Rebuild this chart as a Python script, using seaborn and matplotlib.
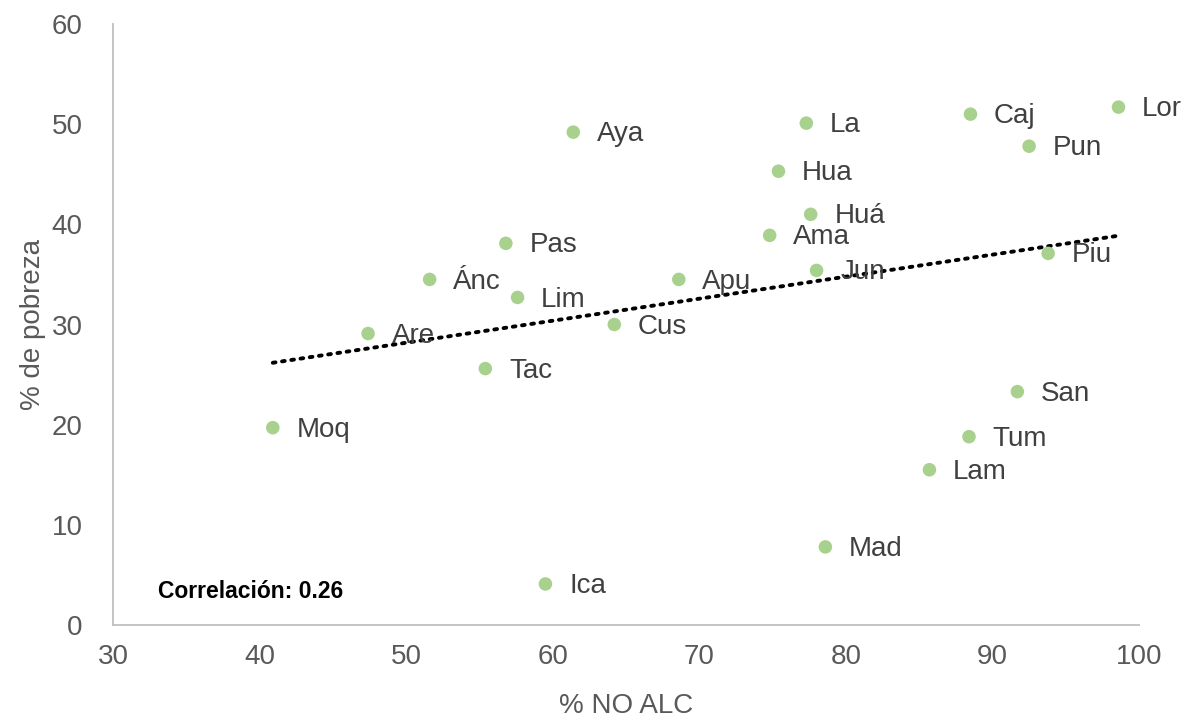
import numpy as np
import matplotlib
matplotlib.use("Agg")
import matplotlib.pyplot as plt
import pandas as pd
import seaborn as sns

# Regiones: % NO ALC vs % de pobreza
regiones = ["Lor", "Caj", "Pun", "Piu", "La", "Hua", "Huá", "Ama", "Jun",
            "Pas", "Ánc", "Lim", "Apu", "Cus", "Are", "Tac", "Moq", "Ica",
            "Mad", "Aya", "San", "Tum", "Lam"]
no_alc = [98.6, 88.5, 92.5, 93.8, 77.3, 75.4, 77.6, 74.8, 78.0,
          56.8, 51.6, 57.6, 68.6, 64.2, 47.4, 55.4, 40.9, 59.5,
          78.6, 61.4, 91.7, 88.4, 85.7]
pobreza = [51.7, 51.0, 47.8, 37.1, 50.1, 45.3, 41.0, 38.9, 35.4,
           38.1, 34.5, 32.7, 34.5, 30.0, 29.1, 25.6, 19.7, 4.1,
           7.8, 49.2, 23.3, 18.8, 15.5]
correlacion = "0.26"

df = pd.DataFrame({"region": regiones, "no_alc": no_alc, "pobreza": pobreza})

sns.set_style("white")
plt.rcParams['font.family'] = ['Liberation Sans Narrow', 'Liberation Sans', 'DejaVu Sans']

fig = plt.figure(figsize=(11.85, 7.22), dpi=100)
ax = fig.add_axes([0.0954, 0.1343, 0.8658, 0.8325])

# linea de tendencia (OLS)
sns.regplot(data=df, x="no_alc", y="pobreza", ax=ax, scatter=False, ci=None,
            line_kws=dict(color="black", lw=2.8, linestyle=(0, (0.7, 1.7)),
                          dash_capstyle="round"))

sns.scatterplot(data=df, x="no_alc", y="pobreza", ax=ax, color="#A9D18E",
                s=95, edgecolor="none", zorder=3)

for _, r in df.iterrows():
    ax.annotate(r["region"], (r["no_alc"], r["pobreza"]), xytext=(17, -1.5),
                textcoords="offset points", va="center", ha="left",
                fontsize=20, color="#404040")

ax.text(33.1, 3.3, "Correlación: " + correlacion, fontsize=16.5,
        fontweight="bold", color="black", va="center", ha="left")

ax.set_xlim(30, 100)
ax.set_ylim(0, 60)
ax.set_xticks(range(30, 101, 10))
ax.set_yticks(range(0, 61, 10))
ax.tick_params(axis="both", length=0, labelsize=20, labelcolor="#595959")
ax.tick_params(axis="x", pad=14)
ax.tick_params(axis="y", pad=22)

ax.set_xlabel("% NO ALC", fontsize=20, color="#595959", labelpad=16)
ax.set_ylabel("% de pobreza", fontsize=20, color="#595959", labelpad=4)

sns.despine(ax=ax)
for s in ["left", "bottom"]:
    ax.spines[s].set_color("#BFBFBF")
    ax.spines[s].set_linewidth(1.3)

fig.savefig("out.png", dpi=100)
